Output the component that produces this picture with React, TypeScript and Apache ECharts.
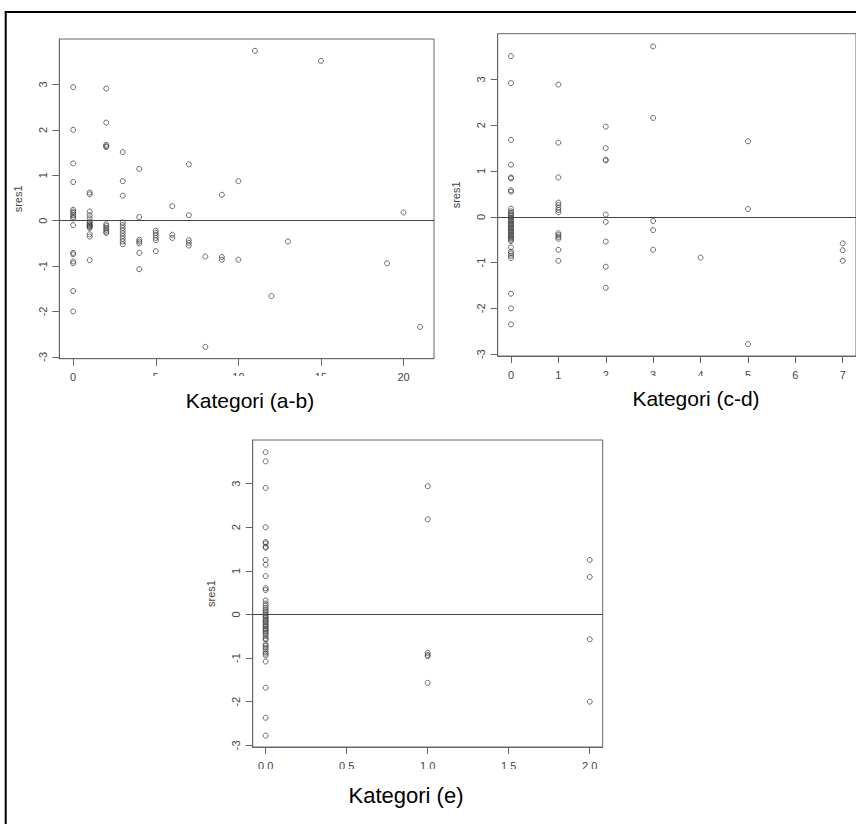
import React, { useEffect, useRef } from "react";
import * as echarts from "echarts";

// Standardised residuals (sres1) grouped by predictor value.
const catAB = [0, 1, 2, 3, 4, 5, 6, 7, 8, 9, 10, 11, 12, 13, 15, 19, 20, 21];
const sresAB = [
  [2.94, 2.0, 1.26, 0.85, 0.24, 0.2, 0.17, 0.12, 0.08, 0.05, -0.1, -0.71, -0.74, -0.9, -0.94, -1.55, -2.0],
  [0.62, 0.58, 0.2, 0.12, 0.05, -0.02, -0.05, -0.08, -0.1, -0.12, -0.14, -0.16, -0.3, -0.35, -0.87],
  [2.91, 2.16, 1.67, 1.64, 1.62, -0.08, -0.12, -0.16, -0.2, -0.24, -0.27],
  [1.51, 0.87, 0.55, -0.04, -0.1, -0.16, -0.22, -0.28, -0.34, -0.4, -0.46, -0.52],
  [1.14, 0.08, -0.42, -0.46, -0.5, -0.71, -1.07],
  [-0.22, -0.27, -0.32, -0.38, -0.43, -0.67],
  [0.32, -0.31, -0.38],
  [1.24, 0.12, -0.43, -0.49, -0.55],
  [-0.79, -2.78],
  [0.57, -0.8, -0.86],
  [0.87, -0.86],
  [3.74],
  [-1.66],
  [-0.46],
  [3.52],
  [-0.94],
  [0.18],
  [-2.34],
];

const catCD = [0, 1, 2, 3, 4, 5, 7];
const sresCD = [
  [3.51, 2.92, 1.68, 1.14, 0.86, 0.84, 0.58, 0.55, 0.18, 0.12, 0.08, 0.05, 0.02, -0.02, -0.05, -0.08,
    -0.11, -0.14, -0.17, -0.2, -0.23, -0.26, -0.29, -0.32, -0.35, -0.38, -0.41, -0.44, -0.47, -0.5,
    -0.53, -0.67, -0.76, -0.8, -0.85, -0.9, -1.68, -2.0, -2.35],
  [2.89, 1.62, 0.86, 0.31, 0.26, 0.2, 0.15, 0.1, -0.36, -0.4, -0.44, -0.48, -0.72, -0.96],
  [1.97, 1.5, 1.25, 1.23, 0.05, -0.11, -0.54, -1.09, -1.55],
  [3.72, 2.16, -0.09, -0.29, -0.72],
  [-0.89],
  [1.65, 0.17, -2.78],
  [-0.58, -0.73, -0.96],
];

const catE = [0, 1, 2];
const sresE = [
  [3.72, 3.51, 2.9, 2.0, 1.66, 1.63, 1.55, 1.53, 1.25, 1.14, 0.88, 0.6, 0.56, 0.32, 0.25, 0.2, 0.15,
    0.1, 0.06, 0.02, -0.02, -0.05, -0.08, -0.12, -0.15, -0.18, -0.22, -0.25, -0.28, -0.32, -0.35,
    -0.38, -0.42, -0.45, -0.5, -0.55, -0.58, -0.68, -0.72, -0.76, -0.8, -0.86, -0.9, -0.94, -1.08,
    -1.68, -2.37, -2.78],
  [2.94, 2.18, -0.88, -0.93, -0.96, -1.57],
  [1.25, 0.86, -0.57, -2.0],
];

const ticksAB = [0, 5, 10, 15, 20];
const ticksCD = [0, 1, 2, 3, 4, 5, 6, 7];
const ticksE = [0, 0.5, 1, 1.5, 2];
const ticksRes = [-3, -2, -1, 0, 1, 2, 3];

const captions = ["Kategori (a-b)", "Kategori (c-d)", "Kategori (e)"];
const yName = "sres1";

const FONT = "'Liberation Sans', Arial, Helvetica, sans-serif";
const AXIS = "#666";
const LABEL = "#444";

function pairs(cats: number[], groups: number[][]): number[][] {
  const out: number[][] = [];
  cats.forEach((c, i) => groups[i].forEach((v) => out.push([c, v])));
  return out;
}

function xAxisFor(i: number, min: number, max: number, ticks: number[], digits: number) {
  return {
    gridIndex: i,
    type: "value",
    min,
    max,
    axisLine: { show: true, onZero: false, lineStyle: { color: AXIS, width: 1 } },
    axisTick: { show: true, length: 7, lineStyle: { color: AXIS }, customValues: ticks },
    axisLabel: {
      customValues: ticks,
      margin: 13,
      color: LABEL,
      fontSize: 11,
      fontFamily: FONT,
      formatter: (v: number) => v.toFixed(digits),
    },
    splitLine: { show: false },
  };
}

function yAxisFor(i: number) {
  return {
    gridIndex: i,
    type: "value",
    min: -3.04,
    max: 4.0,
    name: yName,
    nameLocation: "middle",
    nameRotate: 90,
    nameGap: 36,
    nameTextStyle: { color: LABEL, fontSize: 11, fontFamily: FONT },
    axisLine: { show: true, onZero: false, lineStyle: { color: AXIS, width: 1 } },
    axisTick: { show: true, length: 7, lineStyle: { color: AXIS }, customValues: ticksRes },
    axisLabel: {
      customValues: ticksRes,
      rotate: 90,
      margin: 11,
      color: LABEL,
      fontSize: 11,
      fontFamily: FONT,
    },
    splitLine: { show: false },
  };
}

function scatterFor(i: number, data: number[][]) {
  return {
    type: "scatter",
    xAxisIndex: i,
    yAxisIndex: i,
    data,
    symbol: "circle",
    symbolSize: 5,
    itemStyle: { color: "rgba(0,0,0,0)", borderColor: "#333", borderWidth: 0.9 },
    markLine: {
      silent: true,
      symbol: ["none", "none"],
      label: { show: false },
      lineStyle: { color: "#444", type: "solid", width: 1 },
      data: [{ yAxis: 0 }],
    },
  };
}

function caption(text: string, x: number, y: number, size: number) {
  return {
    type: "text",
    z: 101,
    x,
    y,
    style: {
      text,
      fill: "#000",
      font: `${size}px ${FONT}`,
      textAlign: "center",
      textVerticalAlign: "middle",
    },
  };
}

function cover(x: number, y: number, w: number, h: number) {
  return { type: "rect", z: 100, shape: { x, y, width: w, height: h }, style: { fill: "#fff" } };
}

export default function App() {
  const ref = useRef<HTMLDivElement>(null);

  useEffect(() => {
    if (!ref.current) return;
    const chart = echarts.init(ref.current, undefined, { renderer: "svg" });
    const gridBase = {
      show: true,
      borderColor: AXIS,
      borderWidth: 1,
      backgroundColor: "transparent",
      containLabel: false,
    };
    chart.setOption({
      animation: false,
      backgroundColor: "#fff",
      grid: [
        { ...gridBase, left: 59.3, top: 39, width: 374.7, height: 319.7 },
        { ...gridBase, left: 497.7, top: 33.7, width: 362.9, height: 322.3 },
        { ...gridBase, left: 252.7, top: 440, width: 350, height: 307 },
      ],
      xAxis: [
        xAxisFor(0, -0.84, 21.84, ticksAB, 0),
        xAxisFor(1, -0.28, 7.28, ticksCD, 0),
        xAxisFor(2, -0.08, 2.08, ticksE, 1),
      ],
      yAxis: [yAxisFor(0), yAxisFor(1), yAxisFor(2)],
      series: [
        scatterFor(0, pairs(catAB, sresAB)),
        scatterFor(1, pairs(catCD, sresCD)),
        scatterFor(2, pairs(catE, sresE)),
      ],
      graphic: [
        cover(152, 376, 192, 36),
        cover(585, 376, 190, 36),
        cover(250, 769, 360, 40),
        caption(captions[0], 250, 400, 21),
        caption(captions[1], 696, 398, 21),
        caption(captions[2], 406, 795, 22),
        {
          type: "line",
          z: 102,
          shape: { x1: 5.7, y1: 12, x2: 5.7, y2: 830 },
          style: { stroke: "#000", lineWidth: 2 },
        },
        {
          type: "line",
          z: 102,
          shape: { x1: 4.7, y1: 12, x2: 860, y2: 12 },
          style: { stroke: "#000", lineWidth: 2 },
        },
      ],
    });
    return () => chart.dispose();
  }, []);

  return (
    <div
      ref={ref}
      style={{ position: "fixed", left: 0, top: 0, width: 856, height: 824, background: "#fff" }}
    />
  );
}
